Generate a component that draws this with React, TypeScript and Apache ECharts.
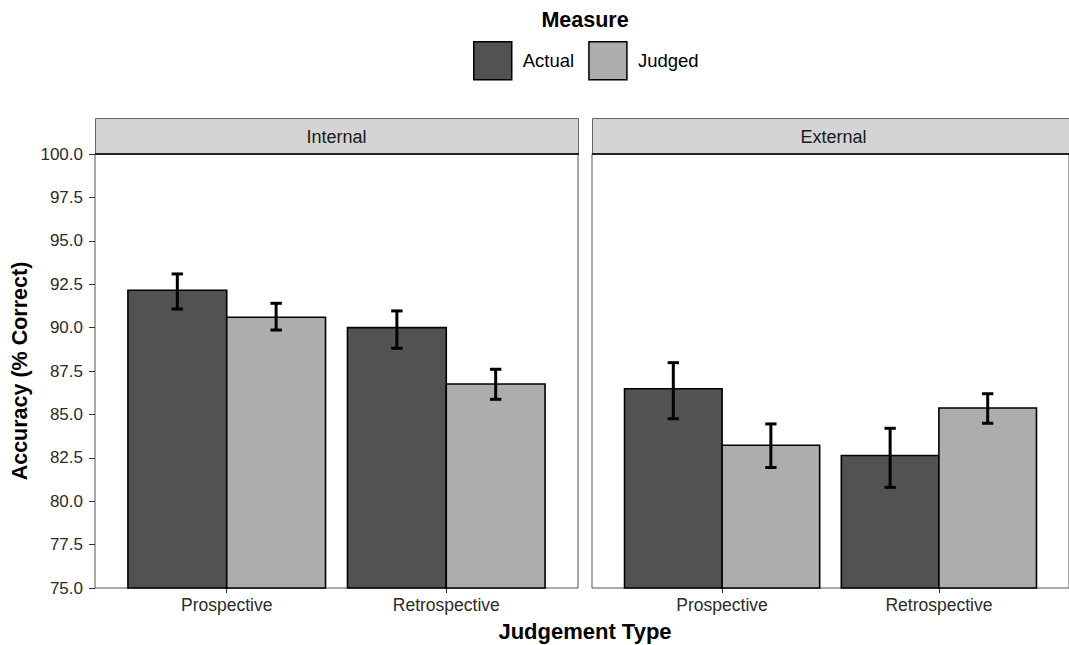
import React, { useEffect, useRef } from "react";
import * as echarts from "echarts";

const categories = ["Prospective", "Retrospective"];
const panels = ["Internal", "External"];
const measures = ["Actual", "Judged"];

const internalActual = [92.15, 90.0];
const internalActualLow = [91.07, 88.81];
const internalActualHigh = [93.09, 90.96];
const internalJudged = [90.6, 86.75];
const internalJudgedLow = [89.86, 85.87];
const internalJudgedHigh = [91.4, 87.6];

const externalActual = [86.48, 82.63];
const externalActualLow = [84.75, 80.8];
const externalActualHigh = [87.98, 84.2];
const externalJudged = [83.22, 85.37];
const externalJudgedLow = [81.94, 84.49];
const externalJudgedHigh = [84.45, 86.19];

const yTicks = [75, 77.5, 80, 82.5, 85, 87.5, 90, 92.5, 95, 97.5, 100];

const FONT = '"Liberation Sans", Arial, Helvetica, sans-serif';
const colors = { Actual: "#525252", Judged: "#adadad" };
const DODGE = 0.225;
const HALF_BAR = 0.225;
const CAP = 0.026;

function rows(vals: number[], low: number[], high: number[]) {
  return vals.map((v, i) => [i + 1, v, low[i], high[i]]);
}

function barSeries(name: string, gridIdx: number, data: number[][], offset: number) {
  return {
    type: "custom",
    name,
    xAxisIndex: gridIdx,
    yAxisIndex: gridIdx,
    itemStyle: { color: (colors as any)[name], borderColor: "#000", borderWidth: 1.5 },
    data,
    z: 2,
    renderItem: (params: any, api: any) => {
      const x = api.value(0) + offset;
      const p1 = api.coord([x - HALF_BAR, api.value(1)]);
      const p2 = api.coord([x + HALF_BAR, 75]);
      return {
        type: "rect",
        shape: { x: p1[0], y: p1[1], width: p2[0] - p1[0], height: p2[1] - p1[1] },
        style: { fill: (colors as any)[name], stroke: "#000", lineWidth: 1.6 },
      };
    },
  };
}

function errSeries(gridIdx: number, data: number[][], offset: number) {
  return {
    type: "custom",
    name: "err" + gridIdx + offset,
    xAxisIndex: gridIdx,
    yAxisIndex: gridIdx,
    data,
    z: 5,
    renderItem: (params: any, api: any) => {
      const x = api.value(0) + offset;
      const lo = api.value(2);
      const hi = api.value(3);
      const top = api.coord([x, hi]);
      const bot = api.coord([x, lo]);
      const tl = api.coord([x - CAP, hi]);
      const tr = api.coord([x + CAP, hi]);
      const bl = api.coord([x - CAP, lo]);
      const br = api.coord([x + CAP, lo]);
      const st = { stroke: "#000", lineWidth: 3 };
      return {
        type: "group",
        children: [
          { type: "line", shape: { x1: top[0], y1: top[1], x2: bot[0], y2: bot[1] }, style: st },
          { type: "line", shape: { x1: tl[0], y1: tl[1], x2: tr[0], y2: tr[1] }, style: st },
          { type: "line", shape: { x1: bl[0], y1: bl[1], x2: br[0], y2: br[1] }, style: st },
        ],
      };
    },
  };
}

const gridLefts = [95, 592];
const gridWidth = 483;

export default function App() {
  const ref = useRef<HTMLDivElement>(null);
  useEffect(() => {
    document.body.style.margin = "0";
    const chart = echarts.init(ref.current!, null, { renderer: "svg" });
    const xAxes = [0, 1].map((g) => ({
      type: "value",
      gridIndex: g,
      min: 0.4,
      max: 2.6,
      splitLine: { show: false },
      axisLine: { show: false },
      axisTick: { show: true, length: 5, customValues: [1, 2], lineStyle: { color: "#333", width: 1 } },
      axisLabel: {
        customValues: [1, 2],
        formatter: (v: number) => categories[Math.round(v) - 1],
        fontFamily: FONT,
        fontSize: 17.5,
        color: "#2b2b2b",
        margin: 8,
      },
    }));
    const yAxes = [0, 1].map((g) => ({
      type: "value",
      gridIndex: g,
      min: yTicks[0],
      max: yTicks[yTicks.length - 1],
      interval: 2.5,
      splitLine: { show: false },
      axisLine: { show: false },
      axisTick: { show: g === 0, length: 6, lineStyle: { color: "#333", width: 1 } },
      axisLabel: {
        show: g === 0,
        formatter: (v: number) => v.toFixed(1),
        fontFamily: FONT,
        fontSize: 17,
        color: "#2b2b2b",
        margin: 12,
      },
      name: g === 0 ? "Accuracy (% Correct)" : "",
      nameLocation: "middle",
      nameGap: 64,
      nameTextStyle: { fontFamily: FONT, fontSize: 21.5, fontWeight: "bold", color: "#000" },
    }));
    const option: any = {
      animation: false,
      grid: [0, 1].map((g) => ({
        left: gridLefts[g],
        top: 154,
        width: gridWidth,
        height: 434,
        show: true,
        borderColor: "#555",
        borderWidth: 1,
        backgroundColor: "#fff",
      })),
      xAxis: xAxes,
      yAxis: yAxes,
      legend: {
        left: 473,
        top: 41,
        padding: 0,
        itemWidth: 38,
        itemHeight: 38,
        itemGap: 14,
        textStyle: { fontFamily: FONT, fontSize: 18.5, color: "#000", padding: [0, 0, 0, 6] },
        data: measures.map((m) => ({
          name: m,
          icon: "rect",
          itemStyle: { color: (colors as any)[m], borderColor: "#000", borderWidth: 1.5 },
        })),
      },
      graphic: [
        {
          type: "text",
          x: 585,
          y: 20,
          style: { text: "Measure", font: `bold 21.5px ${FONT}`, fill: "#000", textAlign: "center", textVerticalAlign: "middle" },
        },
        {
          type: "text",
          x: 585,
          y: 631,
          style: { text: "Judgement Type", font: `bold 22px ${FONT}`, fill: "#000", textAlign: "center", textVerticalAlign: "middle" },
        },
        ...[0, 1].flatMap((g) => [
          {
            type: "rect",
            shape: { x: gridLefts[g] + 0.5, y: 118.5, width: gridWidth, height: 35.5 },
            style: { fill: "#d4d4d4", stroke: "#666", lineWidth: 1 },
            z: 10,
          },
          {
            type: "line",
            shape: { x1: gridLefts[g], y1: 154, x2: gridLefts[g] + gridWidth + 1, y2: 154 },
            style: { stroke: "#222", lineWidth: 2 },
            z: 11,
          },
          {
            type: "text",
            x: gridLefts[g] + gridWidth / 2,
            y: 137,
            style: { text: panels[g], font: `18px ${FONT}`, fill: "#1a1a1a", textAlign: "center", textVerticalAlign: "middle" },
            z: 12,
          },
        ]),
      ],
      series: [
        barSeries("Actual", 0, rows(internalActual, internalActualLow, internalActualHigh), -DODGE),
        barSeries("Judged", 0, rows(internalJudged, internalJudgedLow, internalJudgedHigh), DODGE),
        barSeries("Actual", 1, rows(externalActual, externalActualLow, externalActualHigh), -DODGE),
        barSeries("Judged", 1, rows(externalJudged, externalJudgedLow, externalJudgedHigh), DODGE),
        errSeries(0, rows(internalActual, internalActualLow, internalActualHigh), -DODGE),
        errSeries(0, rows(internalJudged, internalJudgedLow, internalJudgedHigh), DODGE),
        errSeries(1, rows(externalActual, externalActualLow, externalActualHigh), -DODGE),
        errSeries(1, rows(externalJudged, externalJudgedLow, externalJudgedHigh), DODGE),
      ],
    };
    chart.setOption(option);
    return () => chart.dispose();
  }, []);
  return <div ref={ref} style={{ width: 1069, height: 645 }} />;
}
